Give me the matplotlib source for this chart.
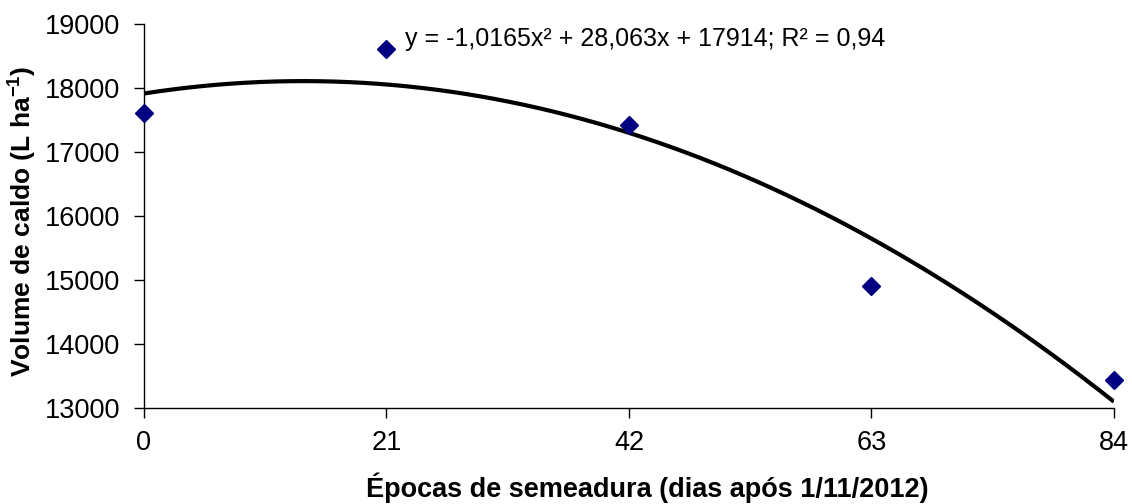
import numpy as np
import matplotlib
matplotlib.use("Agg")
import matplotlib.pyplot as plt

plt.rcParams["font.family"] = ["Liberation Sans", "DejaVu Sans"]
plt.rcParams["mathtext.fontset"] = "custom"
plt.rcParams["mathtext.rm"] = "Liberation Sans"
plt.rcParams["mathtext.bf"] = "Liberation Sans:bold"

# observed points (days after 1/11/2012, L/ha)
dias = [0, 21, 42, 63, 84]
volume = [17610, 18610, 17425, 14910, 13440]

# fitted quadratic shown on the chart
coef_a = -1.0165
coef_b = 28.063
coef_c = 17914

xticks = [0, 21, 42, 63, 84]
yticks = [13000, 14000, 15000, 16000, 17000, 18000, 19000]

fig = plt.figure(figsize=(11.32, 5.04), dpi=100)
ax = fig.add_axes([0.1272, 0.1905, 0.8568, 0.7619])

xs = np.linspace(0, 84, 200)
ax.plot(xs, np.polyval([coef_a, coef_b, coef_c], xs), color="black", lw=3,
        solid_capstyle="butt", zorder=2)
ax.plot(dias, volume, ls="none", marker="D", ms=9, color="#000080",
        clip_on=False, zorder=3)

ax.set_xlim(0, 84)
ax.set_ylim(13000, 19000)
ax.set_xticks(xticks)
ax.set_yticks(yticks)
ax.spines["top"].set_visible(False)
ax.spines["right"].set_visible(False)
for s in ("left", "bottom"):
    ax.spines[s].set_linewidth(1)
ax.tick_params(labelsize=19.5, length=7, width=1, direction="out")
ax.tick_params(axis="x", pad=9)
ax.tick_params(axis="y", pad=10)

ax.set_xlabel("Épocas de semeadura (dias após 1/11/2012)", fontsize=19.5,
              fontweight="bold")
ax.xaxis.set_label_coords(0.519, -0.168)
ax.set_ylabel(r"Volume de caldo (L ha$^{\mathbf{-1}}$)", fontsize=19,
              fontweight="bold")
ax.yaxis.set_label_coords(-0.109, 0.485)

ax.text(0.269, 0.962, "y = -1,0165x² + 28,063x + 17914; R² = 0,94",
        transform=ax.transAxes, fontsize=18, va="center", ha="left")

fig.savefig("out.png", dpi=100)
